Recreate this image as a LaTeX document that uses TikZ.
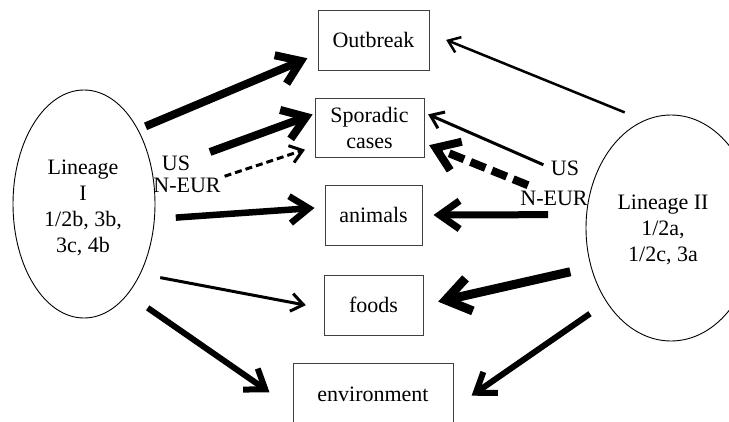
\documentclass[tikz,border=0pt]{standalone}
\usepackage{fontspec}
\setmainfont{Liberation Serif}
\usetikzlibrary{arrows.meta, shapes.geometric}

\begin{document}
\begin{tikzpicture}[x=1pt, y=-1pt,
  every node/.style={font=\fontsize{22}{26}\selectfont},
  box/.style={draw=black!75, line width=1pt, inner sep=0pt, align=center},
  lineage/.style={draw, ellipse, line width=0.9pt, inner sep=0pt},
  lbl/.style={inner sep=0pt},
  arr/.style={-{Straight Barb[length=6pt 2, width=10pt 2.6]}}]
  \useasboundingbox (0,0) rectangle (729,421);
  \clip (0,0) rectangle (729,421);

  % Lineages
  \node[lineage, minimum width=142pt, minimum height=228pt] (lin1) at (84,204) {};
  \node[align=center] (lin1txt) at (83,208) {Lineage\\I\\1/2b, 3b,\\3c, 4b};
  \node[lineage, minimum width=170pt, minimum height=226pt] (lin2) at (671,228) {};
  \node[align=center] (lin2txt) at (663,230) {Lineage II\\1/2a,\\1/2c, 3a};

  % Sources
  \node[box, minimum width=111pt, minimum height=60pt] (outbreak) at (373.5,40) {Outbreak};
  \node[box, minimum width=109pt, minimum height=59pt] (sporadic) at (369.5,127.5) {Sporadic\\cases};
  \node[box, minimum width=97pt, minimum height=60pt] (animals) at (373.5,215) {animals};
  \node[box, minimum width=99pt, minimum height=60pt] (foods) at (373.5,305) {foods};
  \node[box, minimum width=160pt, minimum height=62pt] (env) at (373,394) {environment};

  \node[lbl] (us1) at (176,163) {US};
  \node[lbl] (neur1) at (187,185) {N-EUR};
  \node[lbl] (us2) at (565,168) {US};
  \node[lbl] (neur2) at (554,198) {N-EUR};

  % Lineage I
  \draw[arr, line width=8pt, shorten <=8pt, shorten >=11pt] (lin1.54) -- (outbreak.194);
  \draw[arr, line width=8pt, shorten <=21pt, shorten >=2pt] (us1.15) -- (sporadic.166);
  \draw[arr, line width=3pt, dash pattern=on 7pt off 4pt, shorten <=4pt, shorten >=10pt] (neur1.north east) -- (sporadic.199);
  \draw[arr, line width=6.5pt, shorten <=21pt, shorten >=10pt] (lin1.-12) -- (animals.171);
  \draw[arr, line width=3pt, shorten <=20pt, shorten >=18pt] (lin1.-51) -- (foods.184);
  \draw[arr, line width=6pt, shorten <=24pt, shorten >=28pt] (lin1.-64) -- (env.190);
  % Lineage II
  \draw[arr, line width=2.5pt, shorten <=21pt, shorten >=18pt] (lin2.104) -- (outbreak.7);
  \draw[arr, line width=3pt, shorten <=8pt, shorten >=4pt] (us2.west) -- (sporadic.15);
  \draw[arr, line width=8pt, dash pattern=on 16pt off 7pt, shorten <=14pt, shorten >=5pt] (neur2.150) -- (sporadic.-16);
  \draw[arr, line width=7pt, shorten <=38pt, shorten >=11pt] (lin2.171) -- (animals.east);
  \draw[arr, line width=9pt, shorten <=21pt, shorten >=15pt] (lin2.206) -- (foods.east);
  \draw[arr, line width=6pt, shorten <=20pt, shorten >=22pt] (lin2.229) -- (env.-10);
\end{tikzpicture}
\end{document}
